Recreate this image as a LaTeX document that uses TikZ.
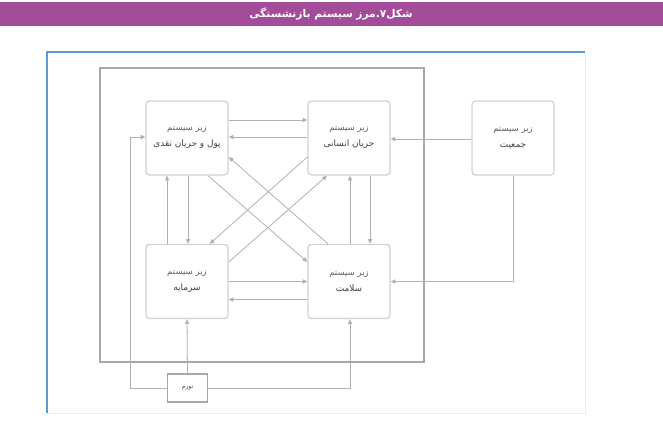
\documentclass[tikz,border=0pt]{standalone}
\usepackage{fontspec}
\usepackage{tikz}
\usetikzlibrary{arrows.meta}
\TeXXeTstate=1
\newfontfamily\arabicfont[Script=Arabic]{DejaVu Sans}
\newcommand{\fa}[1]{{\arabicfont\beginR #1\endR}}
\newcommand{\subname}[1]{\fa{زیر سیستم}\\{\fontsize{6.7}{12}\selectfont\color{textgray}\fa{#1}}}
\definecolor{titlepurple}{HTML}{A24C9A}
\definecolor{pageblue}{HTML}{5B9BD5}
\definecolor{pagegray}{HTML}{EBEBEB}
\definecolor{boxgray}{HTML}{D2D2D2}
\definecolor{linegray}{HTML}{B0B0B0}
\definecolor{bordergray}{HTML}{A8A8A8}
\definecolor{textgray}{HTML}{3F3F3F}
\definecolor{lighttext}{HTML}{5E5E5E}
\tikzstyle{subsys}=[draw=boxgray, line width=1pt, rounded corners=2.5pt, fill=white,
    minimum width=61.5pt, minimum height=55.5pt, inner sep=0pt, align=center,
    text=lighttext, font=\fontsize{6.4}{12}\selectfont]
\tikzstyle{inflbox}=[draw=bordergray, line width=1.3pt, fill=white,
    minimum width=30pt, minimum height=20.5pt, inner sep=0pt,
    text=textgray, font=\fontsize{4.5}{6}\selectfont]
\tikzstyle{flow}=[draw=linegray, line width=0.6pt, -{Triangle[length=3.6pt,width=3.2pt]}]

\begin{document}
\begin{tikzpicture}[x=0.75pt,y=-0.75pt]
          \useasboundingbox (0,0) rectangle (663,435);
          \fill[titlepurple] (0,2) rectangle (663,26);
          \node[text=white, font=\fontsize{8}{10}\bfseries] (title) at (331,14){\fa{شکل۷.مرز سیستم بازنشستگی}};
          \draw[pagegray, line width=0.6pt] (585,52) -- (585,413) -- (47,413);
          \draw[pageblue, line width=0.8pt] (47,413) -- (47,52) -- (585,52);
          \draw[bordergray, line width=1.4pt] (100,68) rectangle (424,362);
          \node[subsys] (sys_cash) at (187,138){\subname{پول و جریان نقدی}};
          \node[subsys] (sys_human) at (349,138){\subname{جریان انسانی}};
          \node[subsys] (sys_pop) at (513,138){\subname{جمعیت}};
          \node[subsys] (sys_capital) at (187,281.5){\subname{سرمایه}};
          \node[subsys] (sys_health) at (349,281.5){\subname{سلامت}};
          \node[inflbox] (infl) at (187.5,388){\fa{تورم}};
          \coordinate (infl_left) at (130,388);
          \draw[flow]([yshift=13.5pt]sys_cash.east) -- ([yshift=13.5pt]sys_human.west);
          \draw[flow]([yshift=0.75pt]sys_human.west) -- ([yshift=0.75pt]sys_cash.east);
          \draw[flow]([yshift=-0.75pt]sys_pop.west) -- ([yshift=-0.75pt]sys_human.east);
          \draw[flow](sys_pop.south) |- (sys_health.east);
          \draw[flow]([xshift=-15pt]sys_capital.north) -- ([xshift=-15pt]sys_cash.south);
          \draw[flow]([xshift=0.75pt]sys_cash.south) -- ([xshift=0.75pt]sys_capital.north);
          \draw[flow]([xshift=0.75pt]sys_health.north) -- ([xshift=0.75pt]sys_human.south);
          \draw[flow]([xshift=15.75pt]sys_human.south) -- ([xshift=15.75pt]sys_health.north);
          \draw[flow](sys_capital.east) -- (sys_health.west);
          \draw[flow]([yshift=-13.5pt]sys_health.west) -- ([yshift=-13.5pt]sys_capital.east);
          \draw[flow]([xshift=15.75pt]sys_cash.south) -- ([yshift=14.6pt]sys_health.west);
          \draw[flow]([xshift=-15.75pt]sys_health.north) -- ([yshift=-14.25pt]sys_cash.east);
          \draw[flow]([yshift=-14.25pt]sys_human.west) -- ([xshift=17pt]sys_capital.north);
          \draw[flow]([yshift=14.6pt]sys_capital.east) -- ([xshift=-16.5pt]sys_human.south);
          \draw[flow](infl.north) -- (sys_capital.south);
          \draw[flow](infl.west) -- (infl_left) |- ([yshift=0.75pt]sys_cash.west);
          \draw[flow](infl.east) -| ([xshift=0.75pt]sys_health.south);
        \end{tikzpicture}
\end{document}
